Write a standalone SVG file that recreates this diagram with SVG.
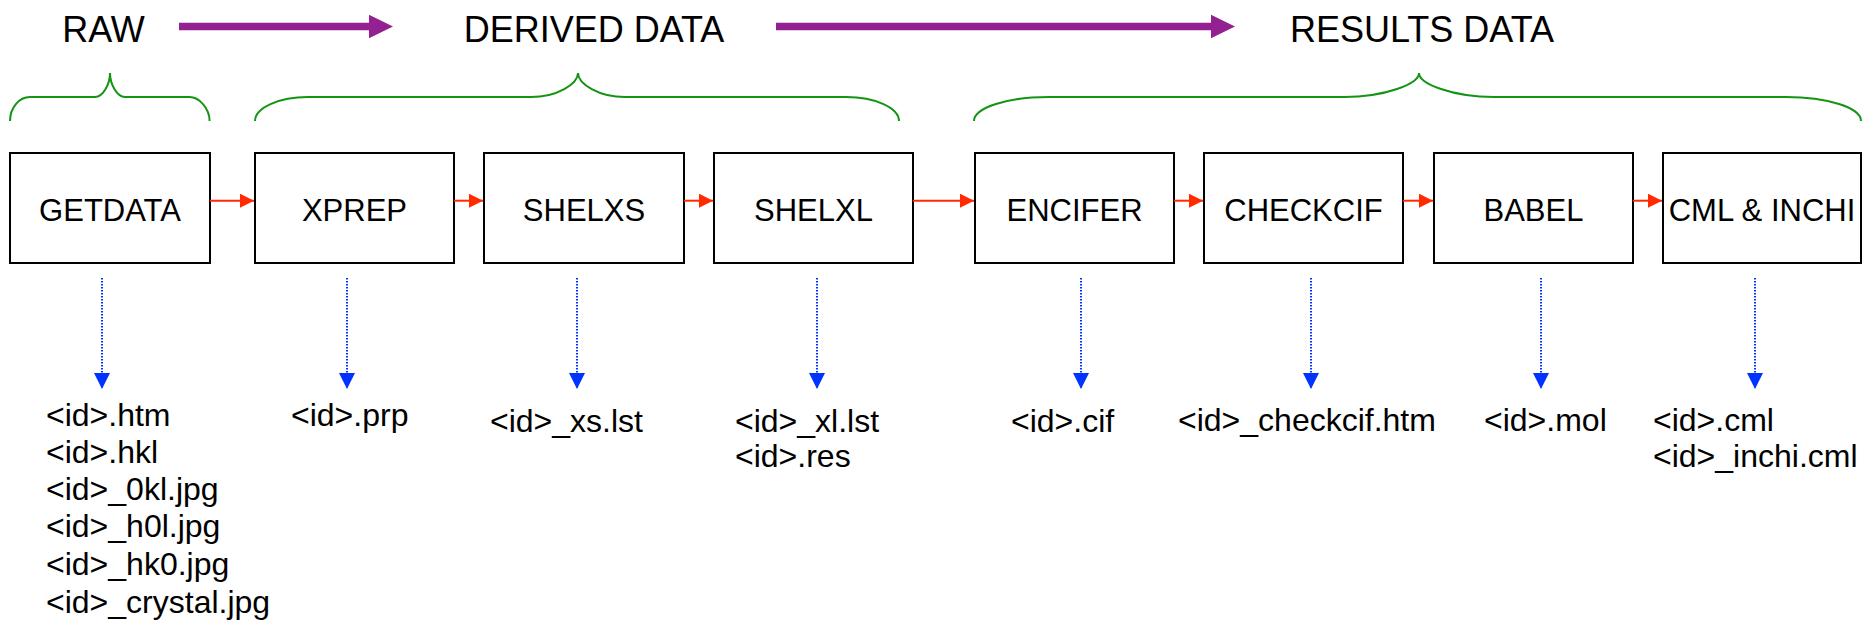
<svg xmlns="http://www.w3.org/2000/svg" width="1863" height="625" viewBox="0 0 1863 625">
<defs>
<style>
.title{font-family:"Liberation Sans",Arial,sans-serif;font-size:36px;fill:#000;text-anchor:middle}
.lbl{font-family:"Liberation Sans",Arial,sans-serif;font-size:31px;fill:#000;text-anchor:middle}
.file{font-family:"Liberation Sans",Arial,sans-serif;font-size:32px;fill:#000}
.box{fill:#fff;stroke:#000;stroke-width:2}
.brace{fill:none;stroke:#139413;stroke-width:2}
.flow{stroke:#ff2a00;stroke-width:2;fill:none;marker-end:url(#redHead)}
.out{stroke:#0033ff;stroke-width:2;stroke-dasharray:1.5 1.5;fill:none;marker-end:url(#blueHead)}
.stage{stroke:#932191;stroke-width:7.5;fill:none}
</style>
<marker id="redHead" viewBox="0 0 14 14" refX="14" refY="7" markerWidth="14" markerHeight="14" markerUnits="userSpaceOnUse" orient="auto">
<path d="M0,0 L14,7 L0,14 Z" fill="#ff2a00"/>
</marker>
<marker id="blueHead" viewBox="0 0 16 16" refX="16" refY="8" markerWidth="16" markerHeight="16" markerUnits="userSpaceOnUse" orient="auto">
<path d="M0,0 L16,8 L0,16 Z" fill="#0033ff"/>
</marker>
</defs>
<rect width="1863" height="625" fill="#fff"/>

<g id="titles">
<text class="title" x="103.5" y="42">RAW</text>
<text class="title" x="594" y="42">DERIVED DATA</text>
<text class="title" x="1422" y="42">RESULTS DATA</text>
</g>

<g id="stage-arrows">
<line class="stage" x1="179" y1="26.5" x2="370" y2="26.5"/>
<path d="M369,14.7 L393,26.5 L369,38.3 Z" fill="#932191"/>
<line class="stage" x1="776" y1="26.5" x2="1212" y2="26.5"/>
<path d="M1211,14.7 L1235,26.5 L1211,38.3 Z" fill="#932191"/>
</g>

<g id="braces">
<path class="brace" d="M10,121 C10,107.8 19,97 30,97 L95,97 C103.3,97 110,83.8 110,73 C110,83.8 116.7,97 125,97 L189.6,97 C198.6,97 209.6,107.8 209.6,121"/>
<path class="brace" d="M255,121 C255,107.8 278.7,97 308,97 L531,97 C557,97 578,83.8 578,73 C578,83.8 599,97 625,97 L846,97 C875.3,97 899,107.8 899,121"/>
<path class="brace" d="M974,121 C974,107.8 1007.6,97 1049,97 L1344,97 C1385.4,97 1419,83.8 1419,73 C1419,83.8 1452.6,97 1494,97 L1786,97 C1827.4,97 1861,107.8 1861,121"/>
</g>

<g id="node-getdata"><rect class="box" x="10" y="153" width="200" height="110"/><text class="lbl" x="110" y="221">GETDATA</text></g>
<g id="node-xprep"><rect class="box" x="255" y="153" width="199" height="110"/><text class="lbl" x="354.5" y="221">XPREP</text></g>
<g id="node-shelxs"><rect class="box" x="484" y="153" width="200" height="110"/><text class="lbl" x="584" y="221">SHELXS</text></g>
<g id="node-shelxl"><rect class="box" x="714" y="153" width="199" height="110"/><text class="lbl" x="813.5" y="221">SHELXL</text></g>
<g id="node-encifer"><rect class="box" x="975" y="153" width="199" height="110"/><text class="lbl" x="1074.5" y="221">ENCIFER</text></g>
<g id="node-checkcif"><rect class="box" x="1204" y="153" width="199" height="110"/><text class="lbl" x="1303.5" y="221">CHECKCIF</text></g>
<g id="node-babel"><rect class="box" x="1434" y="153" width="199" height="110"/><text class="lbl" x="1533.5" y="221">BABEL</text></g>
<g id="node-cml"><rect class="box" x="1663" y="153" width="198" height="110"/><text class="lbl" x="1762" y="221">CML &amp; INCHI</text></g>

<g id="connectors">
<line class="flow" x1="210" y1="200.7" x2="254" y2="200.7"/>
<line class="flow" x1="454" y1="200.7" x2="483" y2="200.7"/>
<line class="flow" x1="684" y1="200.7" x2="713" y2="200.7"/>
<line class="flow" x1="913" y1="200.7" x2="974" y2="200.7"/>
<line class="flow" x1="1174" y1="200.7" x2="1203" y2="200.7"/>
<line class="flow" x1="1403" y1="200.7" x2="1433" y2="200.7"/>
<line class="flow" x1="1633" y1="200.7" x2="1662" y2="200.7"/>
<line class="out" x1="102" y1="278" x2="102" y2="389"/>
<line class="out" x1="347" y1="278" x2="347" y2="389"/>
<line class="out" x1="577" y1="278" x2="577" y2="389"/>
<line class="out" x1="817" y1="278" x2="817" y2="389"/>
<line class="out" x1="1081" y1="278" x2="1081" y2="389"/>
<line class="out" x1="1311" y1="278" x2="1311" y2="389"/>
<line class="out" x1="1541" y1="278" x2="1541" y2="389"/>
<line class="out" x1="1755" y1="278" x2="1755" y2="389"/>
</g>

<g id="outputs">
<text class="file" x="46" y="426">&lt;id&gt;.htm</text>
<text class="file" x="46" y="463">&lt;id&gt;.hkl</text>
<text class="file" x="46" y="500">&lt;id&gt;_0kl.jpg</text>
<text class="file" x="46" y="537">&lt;id&gt;_h0l.jpg</text>
<text class="file" x="46" y="575">&lt;id&gt;_hk0.jpg</text>
<text class="file" x="46" y="613">&lt;id&gt;_crystal.jpg</text>
<text class="file" x="291" y="426">&lt;id&gt;.prp</text>
<text class="file" x="490" y="431.5">&lt;id&gt;_xs.lst</text>
<text class="file" x="735" y="431.5">&lt;id&gt;_xl.lst</text>
<text class="file" x="735" y="466.5">&lt;id&gt;.res</text>
<text class="file" x="1011" y="431.5">&lt;id&gt;.cif</text>
<text class="file" x="1178" y="431">&lt;id&gt;_checkcif.htm</text>
<text class="file" x="1484" y="431">&lt;id&gt;.mol</text>
<text class="file" x="1653" y="431">&lt;id&gt;.cml</text>
<text class="file" x="1653" y="466.5">&lt;id&gt;_inchi.cml</text>
</g>
</svg>
